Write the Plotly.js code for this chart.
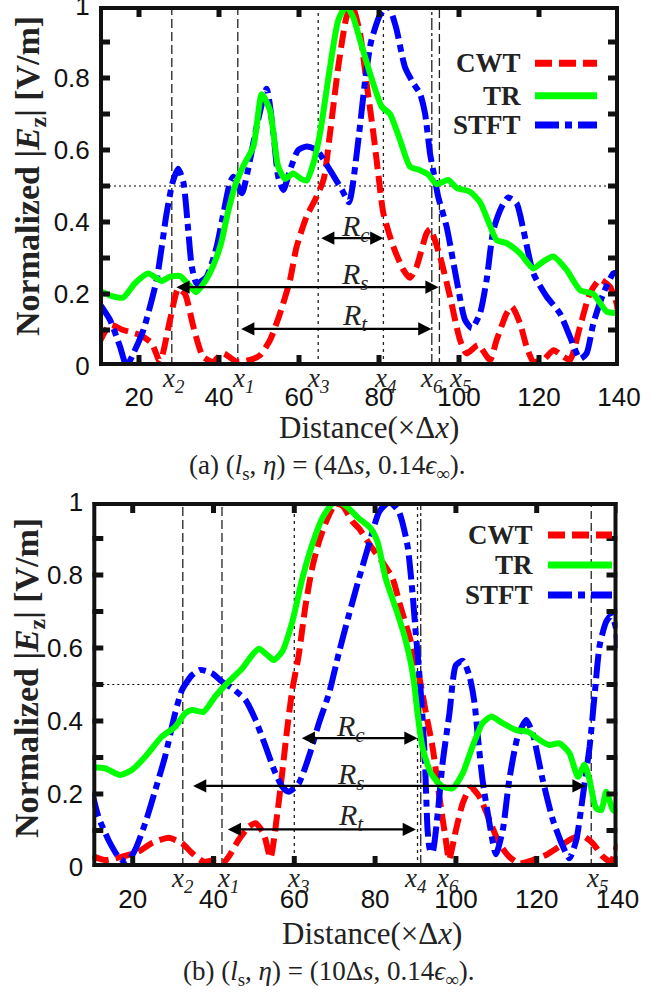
<!DOCTYPE html>
<html><head><meta charset="utf-8">
<script src="https://cdn.plot.ly/plotly-3.0.1.min.js"></script>
<style>html,body{margin:0;padding:0;background:#fff}#chart{width:665px;height:993px}</style>
</head><body><div id="chart"></div>
<script>
// ---------- shared tick data ----------
const xTickVals = [20, 40, 60, 80, 100, 120, 140];
const yTickVals = [0, 0.1, 0.2, 0.3, 0.4, 0.5, 0.6, 0.7, 0.8, 0.9, 1];
const yTickText = ['0', '', '0.2', '', '0.4', '', '0.6', '', '0.8', '', '1'];
const seriesNames = ['CWT', 'TR', 'STFT'];
const markerNames = ['x<sub>2</sub>', 'x<sub>1</sub>', 'x<sub>3</sub>', 'x<sub>4</sub>', 'x<sub>6</sub>', 'x<sub>5</sub>'];

// ---------- panel (a) ----------
const aCwtX = [10,12.75,16,20.25,23.2,25.25,27.75,29.8,31.5,33.6,36,38.5,41,44.4,47.75,50.25,52.75,55.25,57.75,59.4,61.9,64.4,66.2,67.75,69.8,71.9,73.3,75.25,76.9,78.6,79.8,81.1,83.6,86.1,87.75,89.4,91.9,92.8,95.25,97.75,100.25,101.9,104.8,107.75,109.4,111.9,113.2,115.25,116.9,118.6,121.1,123.6,126.1,127.75,130.25,132.75,135.25,137.75,139.4,140];
const aCwtY = [0.063,0.114,0.1,0.086,0.063,0.012,0.128,0.215,0.2,0.109,0.026,0.012,0.035,0.012,0.017,0.03,0.072,0.146,0.239,0.331,0.415,0.47,0.52,0.646,0.83,0.97,1.0,0.924,0.785,0.646,0.535,0.424,0.331,0.267,0.245,0.276,0.369,0.38,0.304,0.193,0.072,0.035,0.058,0.017,0.072,0.146,0.165,0.119,0.054,0.012,0.017,0.044,0.026,0.017,0.109,0.202,0.24,0.22,0.174,0.128];
const aTrX = [10,13,16,19,22.3,25.7,27.75,30.25,32.5,34.25,36.5,38.6,40.5,42.3,44,46,48.6,50.7,52.75,54.8,56.5,58.5,60.5,61.9,63.5,65.25,67.75,69.8,71.8,73.5,75.25,77.75,80.7,82.75,85.25,87.75,90.25,92.3,94.4,97.3,99.4,102.75,105.25,107.75,109.4,111.9,115.25,118.6,121,123.6,126.9,130.25,133.6,136.9,139.4,140];
const aTrY = [0.21,0.195,0.19,0.23,0.257,0.236,0.248,0.25,0.225,0.205,0.235,0.28,0.34,0.43,0.5,0.554,0.61,0.755,0.71,0.554,0.52,0.535,0.52,0.515,0.56,0.646,0.83,0.96,1.0,0.97,0.906,0.813,0.72,0.7,0.628,0.554,0.544,0.532,0.505,0.517,0.495,0.484,0.455,0.39,0.35,0.341,0.313,0.271,0.29,0.304,0.267,0.211,0.2,0.151,0.146,0.137];
const aStftX = [10,12.75,15.25,16.9,18.6,21.1,24.4,26.9,28.4,29.8,31.1,32.3,33.2,34.4,36.9,39.4,41.1,42.75,43.6,45.7,47.75,49.4,51.9,53.6,54.8,56.1,57.75,59.8,61.9,64.4,67.75,70.7,72.5,74.75,76.5,78,80.25,82.3,84.2,86.5,88.6,90.25,91.5,92.75,94,94.8,96.9,99.4,101.5,103.2,105.25,106.9,108.6,110.7,112.3,114.4,116.1,118.6,121.9,125.25,127.75,130.25,131.9,133.6,136.1,138.6,140];
const aStftY = [0.175,0.128,0.054,0.0,0.035,0.1,0.239,0.424,0.51,0.548,0.51,0.378,0.276,0.23,0.248,0.331,0.424,0.51,0.526,0.48,0.572,0.665,0.77,0.646,0.526,0.489,0.544,0.6,0.61,0.6,0.544,0.49,0.455,0.62,0.79,0.9,0.975,1.0,0.943,0.83,0.785,0.757,0.702,0.591,0.517,0.47,0.387,0.239,0.128,0.105,0.146,0.239,0.378,0.443,0.468,0.452,0.378,0.257,0.193,0.146,0.081,0.02,0.035,0.119,0.202,0.257,0.26];
const aMarkers = [28.2, 44.7, 64.8, 81.1, 93.2, 95.1];          // x2 x1 x3 x4 x6 x5
const aMarkerLabelX = [28.5, 46, 64.8, 81.5, 93.2, 100.2];
const aRanges = {Rc: [64.8, 81.1, 0.355], Rs: [28.6, 94.9, 0.219], Rt: [44.8, 93.1, 0.103]};

// ---------- panel (b) ----------
const bCwtX = [10,13.2,17.3,21.4,24.7,28.9,32.2,34.7,37.5,40.9,42.1,43.75,46.2,48.7,50.4,52.4,54.1,55.8,57,58.2,59.5,61.1,62.8,64.4,66.1,68.2,70.2,71.9,74.4,76,79.3,81.8,84.3,86.4,88.4,90.1,91.3,92.6,94.2,95.9,97.5,98.3,100,101.7,103.7,105.8,108.3,110.7,113.2,115.7,119,122.3,125.6,128.9,131.4,133.9,136.4,138.4,140];
const bCwtY = [0.03,0.019,0.028,0.042,0.065,0.08,0.065,0.038,0.015,0.02,0.008,0.028,0.074,0.11,0.12,0.092,0.025,0.147,0.257,0.375,0.485,0.581,0.718,0.818,0.891,0.955,0.995,0.99,0.946,0.928,0.873,0.836,0.791,0.709,0.636,0.562,0.5,0.421,0.33,0.193,0.074,0.02,0.101,0.175,0.218,0.193,0.129,0.065,0.028,0.01,0.019,0.033,0.056,0.079,0.085,0.065,0.028,0.015,0.065];
const bTrX = [10,13.2,16.9,19.8,23.1,27.2,30.5,33,34.7,37.5,40.4,43.75,47.1,49.6,51.2,53.3,54.9,57,59.5,62,64.4,66.9,69.4,71,72.7,76,78.9,80.6,82.6,85.1,87.2,88.8,89.65,90.5,91.7,93.8,96.7,99.2,101.7,104.1,106.6,108.7,111.6,114.9,117.8,120.7,123.2,125.6,128.1,130.2,131.8,133.1,134.7,136,137.2,138.9,140];
const bTrY = [0.273,0.27,0.252,0.266,0.302,0.357,0.384,0.421,0.43,0.425,0.467,0.508,0.544,0.581,0.598,0.581,0.567,0.59,0.672,0.791,0.882,0.955,0.996,1.0,0.99,0.955,0.928,0.891,0.791,0.709,0.636,0.562,0.505,0.421,0.33,0.257,0.22,0.216,0.257,0.33,0.394,0.412,0.394,0.375,0.371,0.348,0.334,0.339,0.312,0.247,0.28,0.238,0.161,0.156,0.206,0.156,0.15];
const bStftX = [10,11.5,14,16.45,18.5,20.6,23.1,25.6,28,30.5,32.2,34.7,36.7,39.6,42.1,44.6,47.9,50.4,52.9,55,57,58.6,61.1,63.6,66.1,68.6,71,73.5,76,78.9,81,83.5,85.9,88,89.3,90.1,90.9,91.5,92.3,93,93.5,94.2,95.5,96.7,98.4,100,101.7,103.3,104.6,105.5,106.6,108.3,109.9,111.6,113.2,115.3,117.4,119,121.5,124,126.5,128.1,129.8,131.4,133.1,134.3,135.6,137.2,138.5,139.5,140];
const bStftY = [0.202,0.138,0.074,0.028,0.012,0.047,0.12,0.211,0.302,0.421,0.485,0.526,0.54,0.531,0.508,0.49,0.458,0.403,0.33,0.266,0.22,0.206,0.229,0.302,0.394,0.476,0.585,0.69,0.79,0.9,0.973,1.0,0.973,0.882,0.745,0.636,0.535,0.45,0.3,0.1,0.05,0.04,0.147,0.284,0.421,0.553,0.565,0.526,0.45,0.35,0.238,0.12,0.035,0.101,0.238,0.357,0.403,0.366,0.238,0.129,0.056,0.024,0.074,0.193,0.33,0.467,0.608,0.672,0.69,0.66,0.6];
const bMarkers = [32.4, 42.1, 60.0, 90.5, 91.3, 133.5];
const bMarkerLabelX = [32.3, 43.7, 60.8, 90.1, 97.8, 134.9];
const bRanges = {Rc: [61.1, 90.5, 0.353], Rs: [34.2, 132.1, 0.222], Rt: [42.8, 90.1, 0.103]};

// ---------- layout helpers (pixel geometry) ----------
const W = 665, H = 993;
const X_RANGE = [10, 140], Y_RANGE = [0, 1];
const px = p => p / W, py = p => 1 - p / H;
const SERIF = 'Liberation Serif, Times New Roman, serif';
const SANS = 'Liberation Sans, Arial, sans-serif';
const COL = {CWT: '#ff0000', TR: '#00ff00', STFT: '#0000ff'};
const DASH = {CWT: '17px,7px', TR: 'solid', STFT: '24px,6px,7px,6px'};
const markerDash = ['9px,4px', '9px,4px', '3px,4px', '3px,4px', '12px,3px,3px,3px', '8px,4px'];

const panels = [
  {xa: 'x', ya: 'y', L: 99, R: 619, T: 6, B: 366,
   cwt: [aCwtX, aCwtY], tr: [aTrX, aTrY], stft: [aStftX, aStftY],
   markers: aMarkers, mlx: aMarkerLabelX, ranges: aRanges,
   mlY: 380, tickStand: 5, xTitle: [369, 427], yTitle: [30, 176], cap: [327, 467],
   caption: '(a) (<i>l</i><sub>s</sub>, <i>η</i>) = (4Δ<i>s</i>, 0.14<i>ϵ</i><sub>∞</sub>).',
   leg: {textR: 523, l0: 535, l1: 597, ys: [63.3, 95.7, 125]}},
  {xa: 'x2', ya: 'y2', L: 92.3, R: 617.5, T: 502, B: 867,
   cwt: [bCwtX, bCwtY], tr: [bTrX, bTrY], stft: [bStftX, bStftY],
   markers: bMarkers, mlx: bMarkerLabelX, ranges: bRanges,
   mlY: 880, tickStand: 6, xTitle: [372, 933], yTitle: [29, 678], cap: [328, 973],
   caption: '(b) (<i>l</i><sub>s</sub>, <i>η</i>) = (10Δ<i>s</i>, 0.14<i>ϵ</i><sub>∞</sub>).',
   leg: {textR: 535, l0: 548, l1: 612, ys: [535, 565, 595]}}
];

const traces = [], shapes = [], annotations = [];
const layout = {width: W, height: H, margin: {l: 0, r: 0, t: 0, b: 0}, showlegend: false};

function axisBase() {
  return {ticks: 'inside', ticklen: 7, tickwidth: 4, tickcolor: 'rgba(0,0,0,0)',
    showline: true, linewidth: 4, linecolor: 'rgba(0,0,0,0)', mirror: 'ticks',
    showgrid: false, zeroline: false,
    tickfont: {family: SANS, size: 26, color: '#111'}};
}

panels.forEach((p, i) => {
  const sfx = i === 0 ? '' : '2';
  layout['xaxis' + sfx] = Object.assign(axisBase(), {
    domain: [px(p.L), px(p.R)], range: X_RANGE, anchor: p.ya,
    tickmode: 'array', tickvals: xTickVals, ticklabelstandoff: p.tickStand});
  layout['yaxis' + sfx] = Object.assign(axisBase(), {
    domain: [py(p.B), py(p.T)], range: Y_RANGE, anchor: p.xa,
    tickmode: 'array', tickvals: yTickVals, ticktext: yTickText, ticklabeloverflow: 'allow'});

  [['CWT', p.cwt], ['STFT', p.stft], ['TR', p.tr]].forEach(([n, d]) => {
    traces.push({type: 'scatter', mode: 'lines', name: n, x: d[0], y: d[1],
      xaxis: p.xa, yaxis: p.ya, hoverinfo: 'skip',
      line: {color: COL[n], width: 6, dash: DASH[n], shape: 'spline', smoothing: 0.6}});
  });

  // frame and inside tick marks, drawn on the subplot's own axes (clipped half of a wide stroke)
  const xSpan = X_RANGE[1] - X_RANGE[0], ySpan = Y_RANGE[1] - Y_RANGE[0];
  const tlx = 11 / (p.B - p.T) * ySpan;      // tick length on x ticks, in y units
  const tly = 11 / (p.R - p.L) * xSpan;      // tick length on y ticks, in x units
  const fx = [], fy = [];
  xTickVals.forEach(v => {
    fx.push(v, v, null, v, v, null);
    fy.push(Y_RANGE[0], Y_RANGE[0] + tlx, null, Y_RANGE[1], Y_RANGE[1] - tlx, null);
  });
  yTickVals.forEach(v => {
    fx.push(X_RANGE[0], X_RANGE[0] + tly, null, X_RANGE[1], X_RANGE[1] - tly, null);
    fy.push(v, v, null, v, v, null);
  });
  traces.push({type: 'scatter', mode: 'lines', x: fx, y: fy, xaxis: p.xa, yaxis: p.ya,
    hoverinfo: 'skip', connectgaps: false, line: {color: '#111', width: 5}});
  traces.push({type: 'scatter', mode: 'lines', xaxis: p.xa, yaxis: p.ya, hoverinfo: 'skip',
    x: [X_RANGE[0], X_RANGE[1], X_RANGE[1], X_RANGE[0], X_RANGE[0]],
    y: [Y_RANGE[0], Y_RANGE[0], Y_RANGE[1], Y_RANGE[1], Y_RANGE[0]],
    line: {color: '#111', width: 8}});

  p.markers.forEach((m, k) => {
    shapes.push({type: 'line', layer: 'below', xref: p.xa, yref: p.ya, x0: m, x1: m, y0: 0, y1: 1,
      line: {color: '#222', width: 1.3, dash: markerDash[k]}});
    annotations.push({xref: p.xa, yref: 'paper', x: p.mlx[k], y: py(p.mlY), xanchor: 'center', yanchor: 'middle',
      showarrow: false, text: '<i>' + markerNames[k] + '</i>', font: {family: SERIF, size: 27, color: '#222'}});
  });
  shapes.push({type: 'line', layer: 'below', xref: p.xa + ' domain', yref: p.ya, x0: 0, x1: 1, y0: 0.5, y1: 0.5,
    line: {color: '#000', width: 1.2, dash: '2px,3px'}});

  const lab = {Rc: 'c', Rs: 's', Rt: 't'};
  const labY = {Rc: 0.382, Rs: 0.25, Rt: 0.137};
  Object.keys(p.ranges).forEach(k => {
    const [a, b, yv] = p.ranges[k];
    annotations.push({xref: p.xa, yref: p.ya, axref: p.xa, ayref: p.ya, x: b, y: yv, ax: a, ay: yv,
      showarrow: true, arrowhead: 2, arrowside: 'end+start', arrowsize: 1.2, arrowwidth: 2.2,
      arrowcolor: '#000', text: ' '});
    annotations.push({xref: p.xa, yref: p.ya, x: 74, y: labY[k], showarrow: false,
      text: '<i>R</i><sub><i>' + lab[k] + '</i></sub>', font: {family: SERIF, size: 30, color: '#222'}});
  });

  seriesNames.forEach((n, k) => {
    annotations.push({xref: 'paper', yref: 'paper', x: px(p.leg.textR), y: py(p.leg.ys[k]),
      xanchor: 'right', yanchor: 'middle', showarrow: false, text: '<b>' + n + '</b>',
      font: {family: SERIF, size: 27, color: '#222'}});
    shapes.push({type: 'line', xref: 'paper', yref: 'paper', x0: px(p.leg.l0), x1: px(p.leg.l1),
      y0: py(p.leg.ys[k]), y1: py(p.leg.ys[k]), line: {color: COL[n], width: 7, dash: DASH[n]}});
  });

  annotations.push({xref: 'paper', yref: 'paper', x: px(p.xTitle[0]), y: py(p.xTitle[1]), xanchor: 'center', yanchor: 'middle',
    showarrow: false, text: 'Distance(×Δ<i>x</i>)', font: {family: SERIF, size: 31, color: '#222'}});
  annotations.push({xref: 'paper', yref: 'paper', x: px(p.yTitle[0]), y: py(p.yTitle[1]), xanchor: 'center', yanchor: 'middle',
    textangle: -90, showarrow: false, text: '<b>Normalized |<i>E</i><sub>z</sub>| [V/m]</b>',
    font: {family: SERIF, size: 34, color: '#222'}});
  annotations.push({xref: 'paper', yref: 'paper', x: px(p.cap[0]), y: py(p.cap[1]), xanchor: 'center', yanchor: 'middle',
    showarrow: false, text: p.caption, font: {family: SERIF, size: 27, color: '#222'}});
});
layout.shapes = shapes;
layout.annotations = annotations;

Plotly.newPlot('chart', traces, layout, {displayModeBar: false, staticPlot: true});
</script>
</body></html>
